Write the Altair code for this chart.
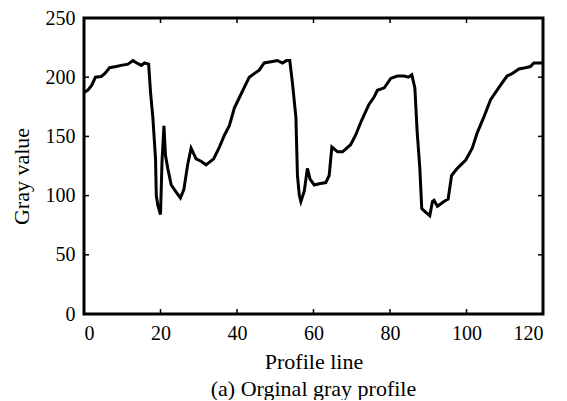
import altair as alt
import pandas as pd

profile_x = [0, 1, 2, 3, 4.5, 5.4, 6.7, 8.4, 9.7, 11.5, 12.8, 13.8, 15, 15.8, 16.9,
             17.4, 18, 18.7, 18.9, 19.3, 20, 20.4, 20.9, 21.3, 21.9, 22.8, 24.1, 25.2,
             26.1, 27.1, 28, 29.3, 30.6, 31.9, 33.9, 35.4, 36.7, 38, 39.3, 41.1, 43.2,
             44.5, 45.8, 47.1, 48.9, 50.6, 51.9, 52.9, 53.8, 54.5, 55.4, 55.8, 56.3,
             56.7, 57.6, 58.4, 59.1, 60.2, 61.5, 63.2, 64.1, 64.8, 66.3, 67.6, 69.7,
             71, 72.5, 74.5, 75.8, 76.7, 78.5, 80.2, 81.9, 83.7, 84.8, 85.7, 86.5,
             87.1, 87.8, 88.3, 89.3, 90.4, 91.1, 91.5, 92.4, 94.1, 95.2, 96.1, 97.6,
             99.8, 101.5, 102.8, 104.5, 106.3, 108.4, 110.6, 111.9, 113.7, 115.4,
             116.7, 117.6, 120]
gray_value = [187, 189, 193, 200, 200.6, 203, 208, 209, 210, 211, 214, 212, 210, 212, 211,
              187, 166, 131, 100, 92, 84, 129, 159, 134, 123, 109, 103, 98,
              105, 126, 140, 131, 129, 126, 131, 141, 151, 159, 174, 186, 200,
              203, 206, 212, 213, 214, 212, 214, 214, 195, 166, 117, 100,
              95, 104, 123, 114, 109, 110, 111, 117, 141, 137, 137, 143,
              151, 163, 177, 183, 189, 191, 199, 201, 201, 200, 202, 191,
              154, 123, 89, 86, 83, 95, 96, 91, 95, 97, 117, 123,
              130, 140, 153, 166, 181, 191, 201, 203, 207, 208,
              209, 212, 212]
x_ticks = [0, 20, 40, 60, 80, 100, 120]
y_ticks = [0, 50, 100, 150, 200, 250]
x_title = "Profile line"
y_title = "Gray value"
caption = "(a) Orginal gray profile"

W, H = 459, 296
FONT = "Liberation Serif"

df = pd.DataFrame({"x": profile_x, "y": gray_value})
xt = pd.DataFrame({"x": x_ticks})
yt = pd.DataFrame({"y": y_ticks})

xscale = alt.Scale(domain=[0, 120], nice=False, zero=False)
yscale = alt.Scale(domain=[0, 250], nice=False)

xaxis = alt.Axis(values=x_ticks, title=x_title, labelPadding=9, titleY=47,
                 titleBaseline="middle", titleFontSize=22, titleFontWeight="normal")
yaxis = alt.Axis(values=y_ticks, title=y_title, labelPadding=9, titleX=-63, titleY=158,
                 titleBaseline="middle", titleFontSize=22, titleFontWeight="normal")

line = alt.Chart(df).mark_line(color="black", strokeWidth=3).encode(
    x=alt.X("x:Q", scale=xscale, axis=xaxis),
    y=alt.Y("y:Q", scale=yscale, axis=yaxis),
)

tb = alt.Chart(xt).mark_rule(color="black", strokeWidth=1.5).encode(
    x=alt.X("x:Q", scale=xscale, axis=xaxis), y=alt.value(H), y2=alt.value(H - 5))
tt = alt.Chart(xt).mark_rule(color="black", strokeWidth=1.5).encode(
    x=alt.X("x:Q", scale=xscale, axis=xaxis), y=alt.value(0), y2=alt.value(5))
tl = alt.Chart(yt).mark_rule(color="black", strokeWidth=1.5).encode(
    y=alt.Y("y:Q", scale=yscale, axis=yaxis), x=alt.value(0), x2=alt.value(5))
tr = alt.Chart(yt).mark_rule(color="black", strokeWidth=1.5).encode(
    y=alt.Y("y:Q", scale=yscale, axis=yaxis), x=alt.value(W), x2=alt.value(W - 5))

cap = alt.Chart(pd.DataFrame({"t": [caption]})).mark_text(
    font=FONT, fontSize=22, color="black", baseline="middle", align="center"
).encode(text="t:N", x=alt.value(W / 2), y=alt.value(371))

chart = alt.layer(line, tb, tt, tl, tr, cap).properties(
    width=W, height=H,
    autosize=alt.AutoSizeParams(type="none"),
    padding={"left": 76, "top": 10, "right": 16, "bottom": 86},
    background="white",
).configure_view(
    stroke="black", strokeWidth=3
).configure_axis(
    domain=False, ticks=False, grid=False,
    labelFont=FONT, labelFontSize=20, labelColor="black",
    titleFont=FONT, titleColor="black",
)

chart.save("out.html", embed_options={"renderer": "svg", "actions": False})
